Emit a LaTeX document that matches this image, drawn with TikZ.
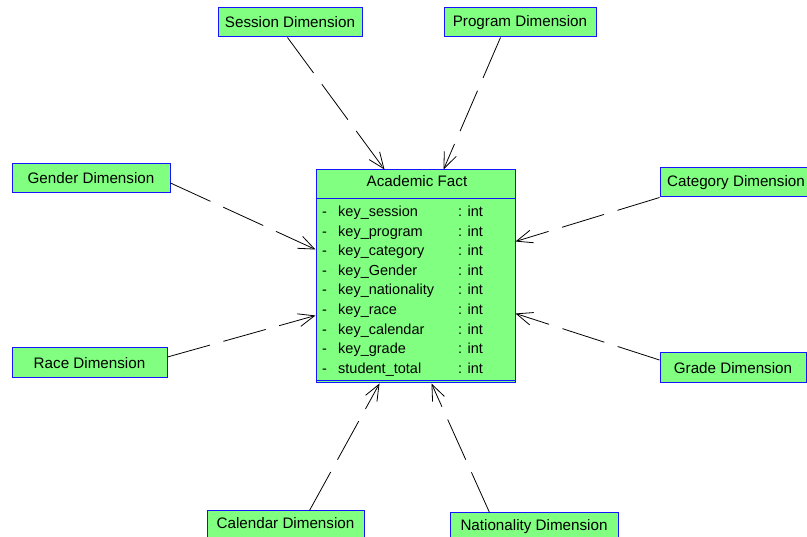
\documentclass[tikz,border=0pt]{standalone}
\usepackage{fontspec}
\setmainfont{Liberation Sans}
\usetikzlibrary{arrows.meta,calc}
\definecolor{boxgreen}{RGB}{128,255,128}
\definecolor{boxblue}{RGB}{20,20,255}
\begin{document}
\begin{tikzpicture}[x=1pt,y=-1pt,
  dimbox/.style={draw=boxblue,fill=boxgreen,line width=1pt,rectangle,inner sep=0pt,
    font=\fontsize{15.2}{17}\selectfont},
  attr/.style={anchor=base west,inner sep=0pt,font=\fontsize{14.5}{17}\selectfont},
  dep/.style={draw=black,line width=0.8pt,dash pattern=on 44pt off 14pt,
    -{Straight Barb[length=16pt,width=13pt,line width=0.8pt]}}]
\useasboundingbox (0,0) rectangle (807,537);
% dimension boxes
\node[dimbox,minimum width=144pt,minimum height=29pt] (sess) at (290,22.5) {Session Dimension};
\node[dimbox,minimum width=152pt,minimum height=29pt] (prog) at (520,22.5) {Program Dimension};
\node[dimbox,minimum width=158pt,minimum height=29pt] (gend) at (91,178.5) {Gender Dimension};
\node[dimbox,minimum width=152pt,minimum height=29pt] (cat) at (736,182.5) {Category Dimension};
\node[dimbox,minimum width=155pt,minimum height=30pt] (race) at (89.5,363) {Race Dimension};
\node[dimbox,minimum width=146pt,minimum height=30pt] (grade) at (733,368) {Grade Dimension};
\node[dimbox,minimum width=157pt,minimum height=30pt,text depth=7pt] (cal) at (285.5,526) {Calendar Dimension};
\node[dimbox,minimum width=168pt,minimum height=30pt,text depth=7pt] (nat) at (534,528) {Nationality Dimension};
% fact box
\node[dimbox,minimum width=199pt,minimum height=213pt] (fact) at (415.5,276.5) {};
\draw[boxblue,line width=1pt] ([shift={(0,29)}]fact.north west) -- ([shift={(0,29)}]fact.north east);
\draw[boxblue,line width=1pt] ([shift={(0,-3)}]fact.south west) -- ([shift={(0,-3)}]fact.south east);
\node[attr,anchor=base,font=\fontsize{15.2}{17}\selectfont] (facttitle) at (417,187) {Academic Fact};
\foreach \n [count=\i from 0] in {key\_session,key\_program,key\_category,key\_Gender,key\_nationality,key\_race,key\_calendar,key\_grade,student\_total}{
  \node[attr] (d\i) at (322,216.5+19.6*\i) {-};
  \node[attr] (n\i) at (338,216.5+19.6*\i) {\n};
  \node[attr] (t\i) at (458,216.5+19.6*\i) {: int};
}
% dependencies
\draw[dep] ([shift={(70,0)}]sess.south west) -- ([shift={(69,0)}]fact.north west);
\draw[dep] ([shift={(57,0)}]prog.south west) -- ([shift={(128,0)}]fact.north west);
\draw[dep] ([shift={(0,4.5)}]gend.east) -- ([shift={(0,80)}]fact.north west);
\draw[dep] (cat.south west) -- ([shift={(0,72)}]fact.north east);
\draw[dep] ([shift={(0,-6)}]race.east) -- ([shift={(0,146)}]fact.north west);
\draw[dep] ([shift={(0,-8)}]grade.west) -- ([shift={(0,144)}]fact.north east);
\draw[dep] ([shift={(103,0)}]cal.north west) -- ([shift={(64,0)}]fact.south west);
\draw[dep] ([shift={(40,0)}]nat.north west) -- ([shift={(116,0)}]fact.south west);
\end{tikzpicture}
\end{document}
